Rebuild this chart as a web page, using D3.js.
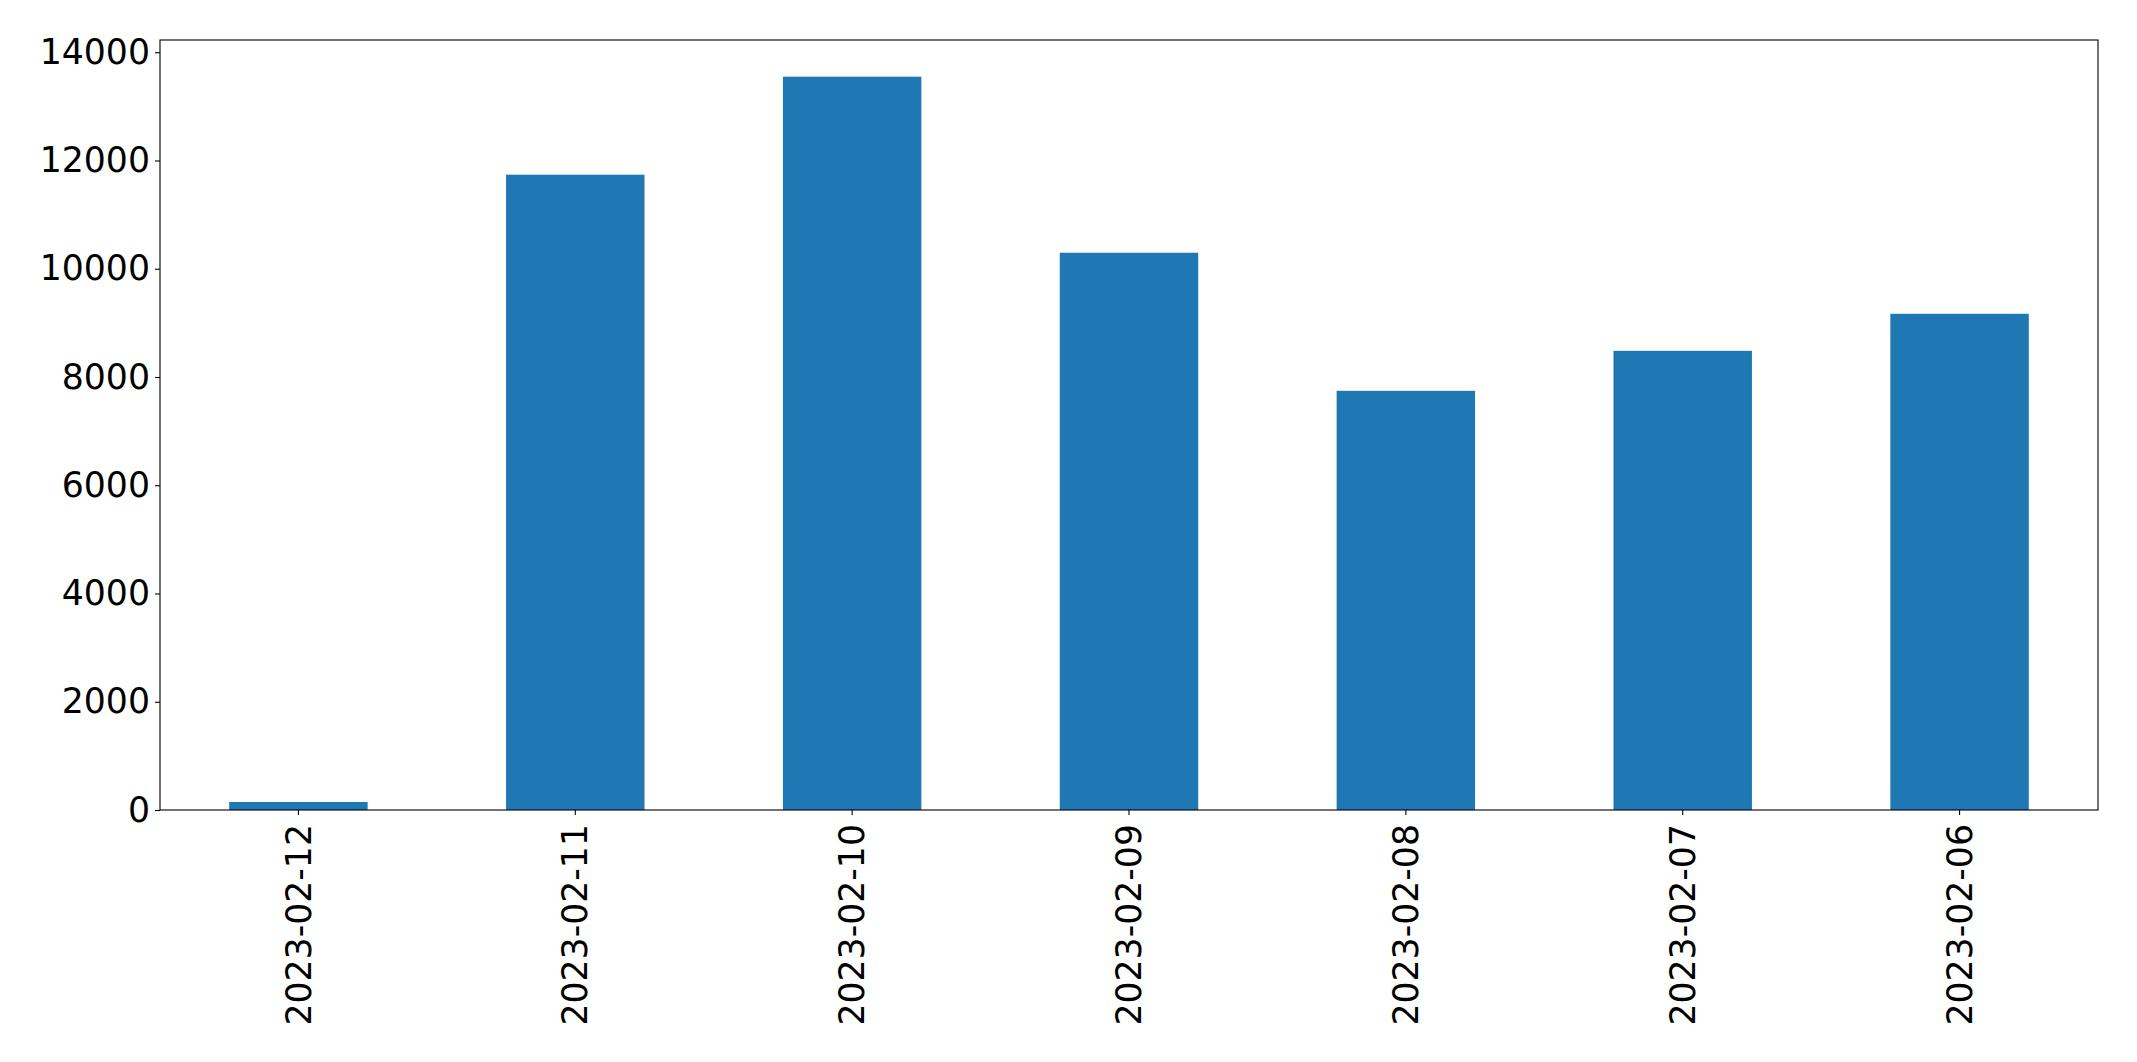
<!DOCTYPE html>
<html>
<head>
<meta charset="utf-8">
<script src="https://cdn.jsdelivr.net/npm/d3@7"></script>
<style>
  body { margin: 0; background: white; }
  svg { display: block; }
  text { font-family: "DejaVu Sans", sans-serif; }
</style>
</head>
<body>
<svg width="2137" height="1062"></svg>
<script>
// Data
var dates = ["2023-02-12", "2023-02-11", "2023-02-10", "2023-02-09", "2023-02-08", "2023-02-07", "2023-02-06"];
var counts = [148, 11738, 13549, 10296, 7745, 8484, 9168];
var y_ticks = [0, 2000, 4000, 6000, 8000, 10000, 12000, 14000];

// D3 elements
var svg = d3.select("svg"),
    margin = {top: 40, right: 39, bottom: 252, left: 160},
    width = +svg.attr("width") - margin.left - margin.right,
    height = +svg.attr("height") - margin.top - margin.bottom,
    g = svg.append("g").attr("transform", "translate(" + margin.left + "," + margin.top + ")");

var bar_color = "#1f77b4";
var font_size = "34.7px";

var x = d3.scaleBand()
    .domain(dates)
    .range([0, width])
    .paddingInner(0.5)
    .paddingOuter(0.25);

// matplotlib leaves 5% headroom above the tallest bar
var y = d3.scaleLinear()
    .domain([0, d3.max(counts) * 1.05])
    .range([height, 0]);

// Bars
g.append("g")
    .selectAll("rect")
    .data(dates)
    .join("rect")
        .attr("x", d => x(d))
        .attr("width", x.bandwidth())
        .attr("y", (d, i) => y(counts[i]))
        .attr("height", (d, i) => height - y(counts[i]))
        .attr("fill", bar_color);

// Y axis
var y_axis = g.append("g")
    .call(d3.axisLeft(y).tickValues(y_ticks).tickSize(5).tickPadding(5).tickFormat(d3.format("d")));
y_axis.select(".domain").remove();
y_axis.selectAll("line").attr("stroke", "black").attr("stroke-width", 1.1);
y_axis.selectAll("text")
    .attr("font-size", font_size)
    .attr("font-family", "DejaVu Sans")
    .attr("fill", "black");

// X axis
var x_axis = g.append("g")
    .attr("transform", "translate(0," + height + ")")
    .call(d3.axisBottom(x).tickSize(5).tickPadding(5));
x_axis.select(".domain").remove();
x_axis.selectAll("line").attr("stroke", "black").attr("stroke-width", 1.1);
x_axis.selectAll("text")
    .attr("font-size", font_size)
    .attr("font-family", "DejaVu Sans")
    .attr("fill", "black")
    .attr("text-anchor", "end")
    .attr("dy", "0.35em")
    .attr("transform", "translate(0,14) rotate(-90)")
    .attr("x", 0)
    .attr("y", 0);

// Frame around the plot
g.append("rect")
    .attr("width", width)
    .attr("height", height)
    .attr("fill", "none")
    .attr("stroke", "black")
    .attr("stroke-width", 1.1);
</script>
</body>
</html>
